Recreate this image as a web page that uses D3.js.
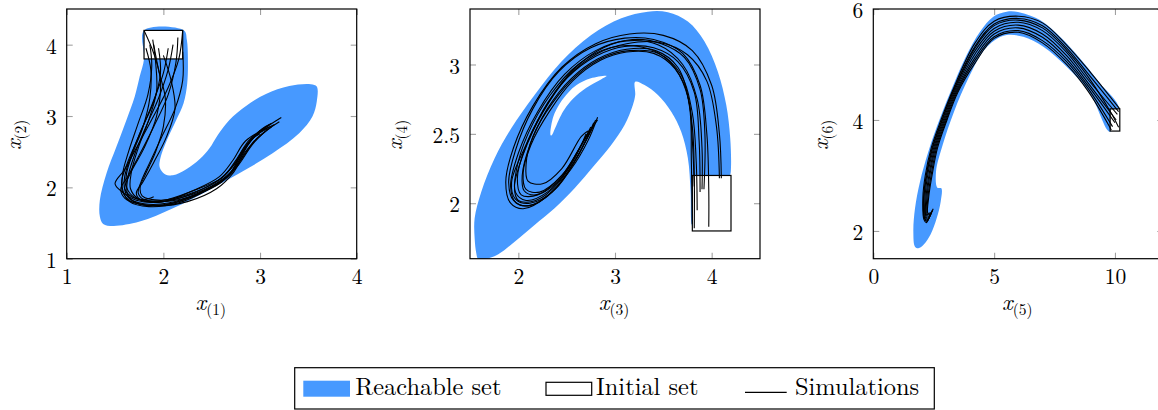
<!DOCTYPE html>
<html>
<head>
<meta charset="utf-8">
<script src="https://cdn.jsdelivr.net/npm/d3@7"></script>
<style>
  html, body { margin: 0; padding: 0; background: #fff; }
  svg { display: block; }
  text { font-family: "Latin Modern Roman", "CMU Serif", "Liberation Serif", "DejaVu Serif", "Noto Serif", "Tinos", "Times New Roman", "Times", "Nimbus Roman", "FreeSerif", serif; fill: #000; }
</style>
</head>
<body>
<svg id="chart" width="1158" height="410"></svg>
<script>
// ---------------- DATA ----------------
const xDomains = [[1, 4], [1.5, 4.5], [0, 12]];
const yDomains = [[1, 4.5], [1.6, 3.4], [1.5, 6]];
const xTicks = [[1, 2, 3, 4], [2, 3, 4], [0, 5, 10]];
const yTicks = [[1, 2, 3, 4], [2, 2.5, 3], [2, 4, 6]];
const xLabels = ["(1)", "(3)", "(5)"];
const yLabels = ["(2)", "(4)", "(6)"];
const legendLabels = ["Reachable set", "Initial set", "Simulations"];

// initial sets [xmin, xmax, ymin, ymax]
const initialSets = [[1.8, 2.2, 3.8, 4.2], [3.8, 4.2, 1.8, 2.2], [9.8, 10.2, 3.8, 4.2]];

// reachable set outlines (data units)
const reach1 = [
  [1.8, 4.2], [1.8, 3.8], [1.755, 3.553], [1.704, 3.273], [1.618, 2.945], [1.515, 2.572],
  [1.412, 2.197], [1.343, 1.823], [1.343, 1.59], [1.377, 1.487], [1.481, 1.459], [1.755, 1.52],
  [2.099, 1.707], [2.443, 1.94], [2.786, 2.197], [3.13, 2.478], [3.405, 2.758], [3.542, 2.992],
  [3.587, 3.203], [3.587, 3.413], [3.525, 3.446], [3.302, 3.422], [3.061, 3.31], [2.855, 3.142],
  [2.683, 2.945], [2.563, 2.735], [2.477, 2.548], [2.374, 2.394], [2.237, 2.254], [2.099, 2.169],
  [2.013, 2.188], [1.962, 2.282], [1.969, 2.408], [2.037, 2.665], [2.133, 2.945], [2.209, 3.179],
  [2.247, 3.46], [2.254, 3.787], [2.243, 4.068], [2.213, 4.2]
];
const reach2 = [
  [1.565, 1.639], [1.548, 1.747], [1.548, 1.891], [1.617, 2.083], [1.755, 2.324], [1.927, 2.54],
  [2.168, 2.78], [2.444, 3.02], [2.754, 3.213], [3.065, 3.333], [3.34, 3.381], [3.547, 3.376],
  [3.754, 3.309], [3.926, 3.165], [4.064, 2.948], [4.151, 2.708], [4.192, 2.468], [4.2, 2.26],
  [4.19, 2.2], [4.0, 1.95], [3.82, 1.81], [3.795, 1.84], [3.782, 2.083], [3.754, 2.324], [3.685, 2.516], [3.582, 2.66],
  [3.444, 2.78], [3.306, 2.852], [3.209, 2.876], [3.209, 2.78], [3.185, 2.708], [3.099, 2.564],
  [2.961, 2.42], [2.789, 2.275], [2.582, 2.107], [2.375, 1.963], [2.168, 1.843], [1.962, 1.723],
  [1.789, 1.631], [1.651, 1.598], [1.582, 1.602]
];
const reach2Hole = [
  [2.334, 2.49], [2.36, 2.62], [2.431, 2.72], [2.52, 2.8], [2.603, 2.852], [2.75, 2.9], [2.913, 2.917],
  [2.85, 2.89], [2.7, 2.83], [2.568, 2.755], [2.48, 2.68], [2.431, 2.62], [2.38, 2.54], [2.345, 2.49]
];
const reach3 = [
  [10.18, 4.197], [9.38, 4.66], [8.553, 5.11], [7.726, 5.5], [6.898, 5.8], [6.07, 5.939], [5.519, 5.951],
  [4.967, 5.861], [4.415, 5.59], [3.864, 5.17], [3.312, 4.63], [2.76, 4.029], [2.277, 3.428],
  [1.933, 2.888], [1.726, 2.407], [1.657, 1.987], [1.726, 1.717], [1.864, 1.687], [2.098, 1.759],
  [2.374, 1.939], [2.622, 2.227], [2.788, 2.528], [2.815, 2.768], [2.65, 2.78], [2.595, 3.068],
  [2.87, 3.548], [3.34, 4.149], [3.933, 4.75], [4.484, 5.2], [5.036, 5.44], [5.519, 5.53],
  [6.208, 5.5], [7.036, 5.32], [8.0, 4.96], [8.967, 4.479], [9.795, 3.789]
];

// simulations (data units)
const sims1 = [
  [[1.80,4.20],[1.90,3.88],[1.97,3.5],[1.93,3.0],[1.80,2.55],[1.66,2.2],[1.6,1.98],[1.65,1.84],[1.80,1.77],[2.05,1.78],[2.35,1.91],[2.62,2.10],[2.78,2.32],[2.92,2.6],[3.05,2.78],[3.2,2.92]],
  [[2.20,4.20],[2.16,3.80],[2.05,3.4],[1.88,2.95],[1.72,2.55],[1.6,2.25],[1.5,2.05],[1.58,1.93],[1.72,1.82],[2.0,1.8],[2.3,1.95],[2.58,2.15],[2.72,2.38],[2.85,2.65],[3.1,2.85]],
  [[1.89,4.07],[1.92,3.75],[1.93,3.35],[1.85,2.95],[1.74,2.55],[1.67,2.22],[1.66,1.98],[1.74,1.84],[1.92,1.79],[2.2,1.86],[2.5,2.02],[2.7,2.22],[2.82,2.5],[2.95,2.72],[3.08,2.82]],
  [[1.86,4.0],[1.88,3.7],[1.84,3.3],[1.74,2.9],[1.64,2.5],[1.58,2.2],[1.58,1.96],[1.65,1.8],[1.85,1.73],[2.15,1.78],[2.45,1.96],[2.68,2.18],[2.8,2.45],[2.92,2.68],[3.0,2.75]],
  [[2.2,3.9],[2.2,3.5],[2.12,3.1],[1.98,2.7],[1.86,2.35],[1.77,2.08],[1.74,1.92],[1.8,1.83],[2.0,1.82],[2.3,1.95],[2.6,2.13],[2.75,2.35],[2.88,2.62],[3.02,2.82],[3.12,2.9]],
  [[1.95,3.95],[1.97,3.6],[1.9,3.2],[1.77,2.8],[1.66,2.42],[1.6,2.15],[1.6,1.98],[1.68,1.86],[1.8,1.83],[1.9,1.87]],
  [[2.1,4.0],[2.05,3.65],[1.95,3.25],[1.82,2.85],[1.7,2.45],[1.63,2.12],[1.63,1.9],[1.72,1.78],[1.95,1.74],[2.25,1.8],[2.55,1.98],[2.72,2.2],[2.85,2.5],[3.0,2.72],[3.12,2.85]],
  [[2.0,3.85],[2.08,3.5],[2.12,3.1],[2.03,2.7],[1.9,2.35],[1.79,2.08],[1.72,1.92],[1.76,1.83],[1.92,1.8],[2.2,1.84],[2.5,2.01],[2.7,2.2],[2.8,2.42],[2.92,2.7],[3.1,2.88]],
  [[2.15,4.1],[2.13,3.75],[2.05,3.3],[1.9,2.85],[1.75,2.45],[1.63,2.15],[1.56,1.98],[1.6,1.85],[1.74,1.77],[2.0,1.75],[2.3,1.87],[2.6,2.07],[2.75,2.3],[2.88,2.6],[3.0,2.8]],
  [[1.9,4.0],[1.95,3.65],[2.02,3.25],[2.0,2.85],[1.92,2.5],[1.82,2.2],[1.76,2.0],[1.78,1.88],[1.98,1.82],[2.25,1.9],[2.55,2.08],[2.72,2.3],[2.85,2.58],[3.0,2.78],[3.22,2.98]],
  [[2.05,3.95],[2.0,3.6],[1.88,3.15],[1.74,2.7],[1.63,2.35],[1.57,2.1],[1.58,1.93],[1.67,1.8],[1.85,1.75],[2.1,1.78],[2.4,1.93],[2.65,2.13],[2.8,2.38],[2.94,2.65],[3.05,2.78]],
  [[1.82,3.95],[1.87,3.65],[1.86,3.25],[1.79,2.85],[1.69,2.5],[1.62,2.2],[1.62,2.0],[1.7,1.86],[1.86,1.8],[2.08,1.82],[2.38,1.96],[2.62,2.15],[2.76,2.4],[2.9,2.68],[3.15,2.88]]
];
const sims2 = [
  [[4.10,2.18],[4.08,2.5],[4.0,2.85],[3.8,3.1],[3.5,3.21],[3.15,3.22],[2.8,3.15],[2.45,2.98],[2.15,2.7],[1.95,2.4],[1.87,2.15],[1.92,2.0],[2.05,1.96],[2.3,2.05],[2.55,2.25],[2.72,2.45],[2.82,2.62]],
  [[3.97,1.83],[3.97,2.1],[3.95,2.5],[3.88,2.85],[3.7,3.08],[3.4,3.18],[3.1,3.19],[2.75,3.12],[2.42,2.95],[2.15,2.68],[1.97,2.38],[1.9,2.15],[1.95,2.02],[2.1,1.98],[2.35,2.08],[2.58,2.3],[2.78,2.56]],
  [[3.90,2.10],[3.90,2.4],[3.85,2.75],[3.7,3.0],[3.45,3.14],[3.12,3.17],[2.8,3.1],[2.48,2.93],[2.2,2.66],[2.0,2.36],[1.92,2.12],[1.98,2.0],[2.15,1.99],[2.4,2.12],[2.62,2.35],[2.8,2.6]],
  [[3.82,1.82],[3.82,2.2],[3.80,2.55],[3.72,2.85],[3.52,3.05],[3.25,3.13],[2.95,3.12],[2.62,3.0],[2.33,2.78],[2.1,2.5],[1.98,2.24],[1.97,2.08],[2.08,2.02],[2.3,2.08],[2.52,2.25],[2.7,2.48],[2.82,2.6]],
  [[3.88,2.08],[3.87,2.45],[3.82,2.8],[3.65,3.02],[3.4,3.12],[3.1,3.13],[2.8,3.06],[2.5,2.9],[2.25,2.65],[2.05,2.35],[1.96,2.12],[2.0,2.02],[2.18,2.02],[2.42,2.15],[2.62,2.38],[2.75,2.55]],
  [[4.08,2.18],[4.05,2.55],[3.95,2.88],[3.75,3.07],[3.45,3.16],[3.12,3.15],[2.82,3.08],[2.52,2.92],[2.26,2.67],[2.07,2.4],[1.99,2.18],[2.03,2.06],[2.2,2.06],[2.45,2.2],[2.65,2.42],[2.74,2.53]],
  [[3.82,2.12],[3.80,2.45],[3.76,2.75],[3.62,2.97],[3.4,3.08],[3.12,3.09],[2.85,3.03],[2.56,2.88],[2.32,2.66],[2.13,2.42],[2.05,2.22],[2.08,2.1],[2.22,2.08],[2.45,2.2],[2.62,2.38],[2.72,2.5]],
  [[3.85,1.95],[3.84,2.3],[3.80,2.65],[3.68,2.93],[3.45,3.08],[3.15,3.1],[2.88,3.05],[2.6,2.92],[2.35,2.72],[2.15,2.48],[2.08,2.28],[2.1,2.16],[2.25,2.14],[2.45,2.25],[2.65,2.48],[2.72,2.52]],
  [[3.92,2.10],[3.93,2.5],[3.88,2.82],[3.72,3.05],[3.48,3.15],[3.18,3.18],[2.88,3.12],[2.58,2.97],[2.3,2.72],[2.08,2.42],[1.93,2.15],[1.97,2.03],[2.12,2.0],[2.38,2.1],[2.6,2.32],[2.78,2.58]],
  [[3.80,1.85],[3.79,2.3],[3.77,2.7],[3.65,2.98],[3.42,3.1],[3.12,3.11],[2.82,3.04],[2.55,2.9],[2.3,2.68],[2.12,2.42],[2.04,2.2],[2.06,2.09],[2.18,2.06],[2.4,2.15],[2.6,2.35],[2.7,2.5]]
];
const sims3 = [
  [[10.2,4.2],[9.0,4.85],[8.0,5.35],[7.0,5.75],[6.0,5.87],[5.0,5.78],[4.2,5.38],[3.25,4.5],[2.8,4.0],[2.4,3.5],[2.15,3.0],[2.05,2.6],[2.1,2.2],[2.2,2.15],[2.35,2.28],[2.48,2.4]],
  [[10.15,4.15],[8.95,4.8],[8.0,5.3],[7.0,5.7],[6.0,5.83],[5.0,5.73],[4.2,5.32],[3.28,4.5],[2.84,4.0],[2.44,3.5],[2.19,3.0],[2.08,2.6],[2.12,2.22],[2.22,2.17],[2.34,2.3]],
  [[10.15,3.87],[9.85,4.12],[8.92,4.76],[8.0,5.26],[7.0,5.66],[6.0,5.8],[5.0,5.7],[4.2,5.29],[3.3,4.5],[2.86,4.0],[2.46,3.5],[2.21,3.0],[2.1,2.6],[2.13,2.23],[2.24,2.19],[2.38,2.32]],
  [[10.1,4.1],[8.9,4.72],[8.0,5.22],[7.0,5.61],[6.0,5.76],[5.0,5.65],[4.2,5.24],[3.34,4.5],[2.9,4.0],[2.5,3.5],[2.25,3.0],[2.14,2.6],[2.16,2.24],[2.26,2.21],[2.4,2.33]],
  [[10.05,4.0],[8.9,4.66],[8.0,5.16],[7.0,5.55],[6.0,5.71],[5.0,5.6],[4.2,5.18],[3.38,4.5],[2.94,4.0],[2.54,3.5],[2.3,3.0],[2.18,2.6],[2.18,2.26],[2.28,2.23],[2.4,2.32]],
  [[10.0,3.95],[8.9,4.61],[8.0,5.1],[7.0,5.49],[6.0,5.66],[5.0,5.55],[4.2,5.12],[3.42,4.5],[2.98,4.0],[2.58,3.5],[2.34,3.0],[2.22,2.6],[2.21,2.28],[2.31,2.27],[2.44,2.36]],
  [[9.9,3.88],[8.9,4.56],[8.0,5.05],[7.0,5.43],[6.0,5.61],[5.0,5.5],[4.2,5.07],[3.46,4.5],[3.02,4.0],[2.62,3.5],[2.39,3.0],[2.26,2.6],[2.24,2.3],[2.33,2.3],[2.46,2.38]],
  [[9.85,3.82],[8.9,4.51],[8.0,5.0],[7.0,5.39],[6.0,5.58],[5.0,5.47],[4.2,5.02],[3.5,4.5],[3.05,4.0],[2.66,3.5],[2.43,3.0],[2.29,2.6],[2.26,2.32],[2.36,2.33]]
];

const reachSets = [[reach1], [reach2, reach2Hole], [reach3]];
const simSets = [sims1, sims2, sims3];

// ---------------- LAYOUT / STYLE ----------------
const BLUE = "#4799ff";
const FONT = '"Latin Modern Roman", "CMU Serif", "Liberation Serif", "DejaVu Serif", "Noto Serif", "Tinos", "Times New Roman", "Times", "Nimbus Roman", "FreeSerif", serif';
const panelLeft = [66.7, 470, 873.3];
const panelTop = 9;
const panelW = 290, panelH = 249.7;
const yLabelX = [21, 402, 828];

const svg = d3.select("#chart");
const defs = svg.append("defs");

for (let p = 0; p < 3; p++) {
  const x = d3.scaleLinear().domain(xDomains[p]).range([0, panelW]);
  const y = d3.scaleLinear().domain(yDomains[p]).range([panelH, 0]);
  const g = svg.append("g").attr("transform", `translate(${panelLeft[p]},${panelTop})`);

  defs.append("clipPath").attr("id", "clip" + p)
    .append("rect").attr("width", panelW).attr("height", panelH);
  const plot = g.append("g").attr("clip-path", `url(#clip${p})`);

  // reachable set
  const area = d3.line().x(d => x(d[0])).y(d => y(d[1])).curve(d3.curveCatmullRomClosed.alpha(0.5));
  plot.append("path")
    .attr("d", reachSets[p].map(r => area(r)).join(" "))
    .attr("fill", BLUE)
    .attr("fill-rule", "evenodd")
    .attr("stroke", "none");

  // initial set
  const s = initialSets[p];
  plot.append("rect")
    .attr("x", x(s[0])).attr("y", y(s[3]))
    .attr("width", x(s[1]) - x(s[0])).attr("height", y(s[2]) - y(s[3]))
    .attr("fill", "#fff").attr("stroke", "#000").attr("stroke-width", 1.2);

  // simulations
  const line = d3.line().x(d => x(d[0])).y(d => y(d[1])).curve(d3.curveCatmullRom.alpha(0.5));
  plot.selectAll("path.sim").data(simSets[p]).join("path")
    .attr("class", "sim")
    .attr("d", line)
    .attr("fill", "none").attr("stroke", "#000").attr("stroke-width", 1.1);

  // axes (ticks inward, grey)
  const fmt = d => String(d);
  const styleAxis = sel => {
    sel.attr("font-family", FONT);
    sel.select(".domain").remove();
    sel.selectAll(".tick line").attr("stroke", "#a0a0a0").attr("stroke-width", 1.1);
    sel.selectAll(".tick text").attr("font-size", 21.5).attr("fill", "#000");
  };
  g.append("g").attr("transform", `translate(0,${panelH})`)
    .call(d3.axisBottom(x).tickValues(xTicks[p]).tickFormat(fmt).tickSizeInner(-6).tickSizeOuter(0).tickPadding(10))
    .call(styleAxis);
  g.append("g")
    .call(d3.axisTop(x).tickValues(xTicks[p]).tickFormat("").tickSizeInner(-6).tickSizeOuter(0))
    .call(styleAxis);
  g.append("g")
    .call(d3.axisLeft(y).tickValues(yTicks[p]).tickFormat(fmt).tickSizeInner(-6).tickSizeOuter(0).tickPadding(10))
    .call(styleAxis)
    .call(sel => sel.selectAll(".tick text").attr("dy", "0.4em"));
  g.append("g").attr("transform", `translate(${panelW},0)`)
    .call(d3.axisRight(y).tickValues(yTicks[p]).tickFormat("").tickSizeInner(-6).tickSizeOuter(0))
    .call(styleAxis);

  // frame
  g.append("rect").attr("width", panelW).attr("height", panelH)
    .attr("fill", "none").attr("stroke", "#000").attr("stroke-width", 1.2);

  // x label
  const xl = svg.append("text")
    .attr("x", panelLeft[p] + panelW / 2 - 1).attr("y", 310)
    .attr("text-anchor", "middle");
  xl.append("tspan").attr("font-style", "italic").attr("font-size", 23).text("x");
  xl.append("tspan").attr("font-size", 15.5).attr("dy", 5).text(xLabels[p]);

  // y label
  const yl = svg.append("text")
    .attr("transform", `translate(${yLabelX[p]},${panelTop + panelH / 2 + 1}) rotate(-90)`)
    .attr("text-anchor", "middle");
  yl.append("tspan").attr("font-style", "italic").attr("font-size", 23).text("x");
  yl.append("tspan").attr("font-size", 15.5).attr("dy", 5).text(yLabels[p]);
}

// ---------------- LEGEND ----------------
const LFS = 24.4;
const lg = svg.append("g");
lg.append("rect").attr("x", 294.7).attr("y", 367.7).attr("width", 639.6).attr("height", 41.3)
  .attr("fill", "#fff").attr("stroke", "#000").attr("stroke-width", 1.2);
lg.append("rect").attr("x", 303.3).attr("y", 380.7).attr("width", 46.7).attr("height", 16).attr("fill", BLUE);
lg.append("text").attr("x", 355.3).attr("y", 395).attr("font-size", LFS).text(legendLabels[0]);
lg.append("rect").attr("x", 546).attr("y", 382.3).attr("width", 45.7).attr("height", 13)
  .attr("fill", "#fff").attr("stroke", "#000").attr("stroke-width", 1.2);
lg.append("text").attr("x", 596).attr("y", 395).attr("font-size", LFS).text(legendLabels[1]);
lg.append("line").attr("x1", 745).attr("x2", 786.7).attr("y1", 392.3).attr("y2", 392.3)
  .attr("stroke", "#000").attr("stroke-width", 1.2);
lg.append("text").attr("x", 795).attr("y", 395).attr("font-size", LFS).text(legendLabels[2]);
</script>
</body>
</html>
